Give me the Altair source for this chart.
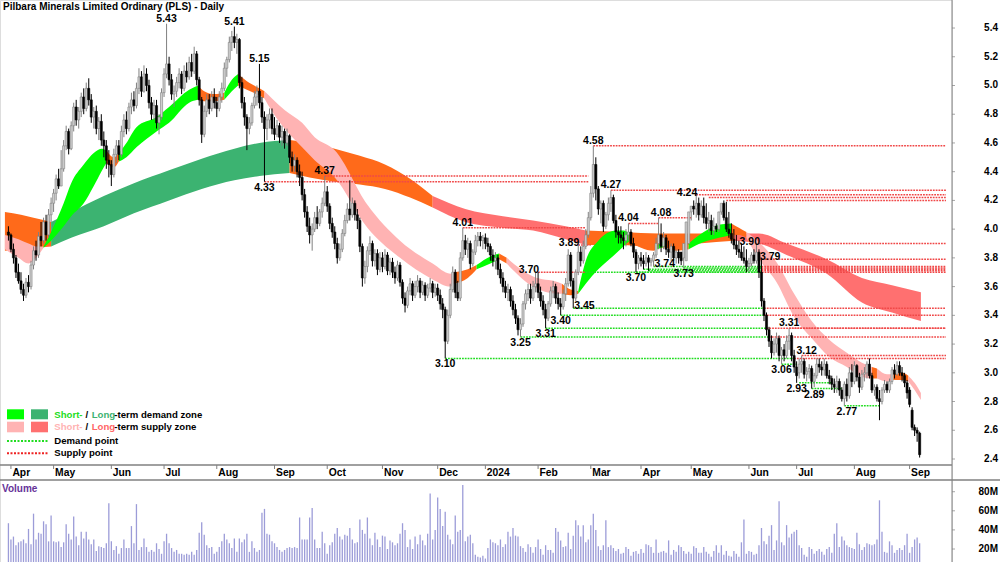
import altair as alt
import pandas as pd

FONT = "Liberation Sans"

# ---------------- daily candles (trading-day index 0 = 31 Mar 2023) ----------------
opens = [3.98,3.96,3.86,3.80,3.70,3.64,3.58,3.54,3.63,3.60,3.75,3.85,3.82,3.95,3.92,4.05,3.96,4.10,
 4.18,4.25,4.35,4.30,4.42,4.58,4.68,4.56,4.72,4.85,4.76,4.82,4.92,4.84,4.98,4.90,4.78,4.82,4.70,4.75,4.62,4.58,4.48,
 4.45,4.38,4.52,4.58,4.52,4.68,4.76,4.70,4.85,4.90,4.86,4.98,5.06,4.96,5.08,5.00,4.88,4.80,4.86,4.74,4.78,
 4.95,5.08,5.15,5.04,4.94,4.96,5.02,5.08,4.98,5.10,5.06,5.16,5.10,5.22,5.04,4.90,4.66,4.82,4.90,4.84,4.92,
 4.88,4.84,4.92,4.98,5.12,5.18,5.30,5.34,5.30,5.32,5.02,4.88,4.78,4.70,4.74,4.86,4.92,4.96,4.88,4.78,4.70,4.76,4.80,
 4.70,4.66,4.72,4.64,4.68,4.60,4.65,4.50,4.44,4.48,4.40,4.36,4.24,4.12,4.02,3.96,4.00,4.08,4.04,4.12,4.18,
 4.26,4.16,4.04,3.98,3.90,3.80,3.86,3.97,4.06,4.14,4.10,4.18,4.10,4.06,3.88,3.66,3.74,3.85,3.90,3.78,3.83,3.72,
 3.80,3.74,3.82,3.71,3.77,3.70,3.66,3.75,3.63,3.52,3.47,3.57,3.62,3.54,3.60,3.64,3.56,3.61,3.54,3.59,3.62,3.56,
 3.59,3.54,3.48,3.44,3.22,3.40,3.58,3.70,3.56,3.52,3.80,3.92,3.86,3.90,3.76,3.84,3.92,3.95,3.92,
 3.94,3.90,3.88,3.82,3.78,3.80,3.72,3.66,3.60,3.56,3.58,3.50,3.44,3.38,3.30,3.34,3.48,3.55,3.58,3.52,3.60,
 3.62,3.56,3.50,3.44,3.38,3.48,3.57,3.60,3.52,3.48,3.46,3.55,3.62,3.82,3.64,3.52,3.70,3.84,3.78,3.88,3.96,
 4.08,4.25,4.45,4.28,4.14,4.18,4.02,4.10,4.18,4.22,4.06,3.98,3.96,3.94,3.92,3.96,3.98,3.90,3.84,3.76,
 3.80,3.78,3.76,3.80,3.77,3.78,3.82,3.90,3.96,3.88,3.94,3.86,3.84,3.88,3.80,3.84,3.84,3.80,3.78,3.90,
 4.12,4.16,4.14,4.18,4.10,4.16,4.08,4.04,4.06,3.99,4.02,4.00,4.12,4.18,4.08,4.00,3.97,3.93,3.89,3.86,3.84,3.80,3.78,
 3.74,3.76,3.82,3.78,3.84,3.70,3.50,3.40,3.30,3.22,3.14,3.20,3.24,3.12,3.16,3.12,3.22,3.26,3.12,
 3.04,3.00,3.06,3.08,2.99,3.01,3.03,2.94,2.98,3.06,3.04,3.02,3.06,2.98,2.96,2.92,2.90,2.94,2.88,2.82,2.92,2.84,3.00,
 2.94,3.05,2.97,2.90,2.99,3.00,3.06,2.98,2.88,2.90,2.82,2.80,2.88,2.92,2.88,2.94,3.02,2.99,3.05,3.00,2.98,2.93,
 2.88,2.74,2.62,2.60,2.58]
highs = [4.02,3.97,3.90,3.82,3.76,3.70,3.62,3.66,3.68,3.78,3.88,3.92,3.98,4.05,4.08,4.10,4.14,4.22,
 4.28,4.38,4.42,4.55,4.62,4.72,4.70,4.75,4.88,4.90,4.85,4.95,4.98,5.02,5.05,4.94,4.85,4.86,4.78,4.80,4.68,4.62,4.55,
 4.48,4.56,4.62,4.62,4.72,4.80,4.82,4.88,4.95,4.96,5.02,5.12,5.10,5.14,5.12,5.04,4.92,4.90,4.90,4.80,4.98,
 5.12,5.43,5.20,5.08,5.00,5.06,5.12,5.10,5.14,5.16,5.20,5.22,5.27,5.24,5.06,4.92,4.86,4.94,4.94,4.96,4.98,
 4.92,4.96,5.02,5.16,5.20,5.34,5.38,5.41,5.36,5.33,5.06,4.92,4.80,4.78,4.88,4.96,5.00,5.15,4.92,4.82,4.80,4.84,4.84,
 4.78,4.76,4.74,4.72,4.70,4.70,4.66,4.54,4.52,4.50,4.45,4.40,4.28,4.16,4.08,4.04,4.12,4.16,4.14,4.22,4.37,
 4.30,4.18,4.08,4.02,3.94,3.90,4.00,4.10,4.18,4.34,4.22,4.20,4.14,4.08,3.90,3.78,3.88,3.95,3.92,3.86,3.86,3.84,
 3.84,3.86,3.84,3.80,3.80,3.74,3.78,3.77,3.65,3.56,3.60,3.66,3.64,3.64,3.68,3.66,3.64,3.63,3.62,3.66,3.64,3.62,
 3.62,3.58,3.52,3.46,3.44,3.62,3.74,3.72,3.64,3.84,4.01,3.96,3.94,3.92,3.86,3.96,3.98,3.98,3.96,
 3.97,3.94,3.90,3.86,3.84,3.82,3.76,3.70,3.64,3.62,3.60,3.54,3.48,3.40,3.38,3.50,3.58,3.62,3.62,3.64,3.70,
 3.70,3.60,3.54,3.48,3.50,3.60,3.64,3.62,3.56,3.52,3.58,3.66,3.86,3.84,3.66,3.72,3.89,3.88,3.92,4.00,4.12,
 4.30,4.58,4.50,4.30,4.20,4.20,4.12,4.22,4.27,4.24,4.10,4.02,4.02,3.98,4.00,4.04,4.00,3.94,3.86,3.82,
 3.84,3.82,3.84,3.82,3.80,3.84,3.94,4.08,4.04,3.98,3.96,3.92,3.90,3.90,3.86,3.86,3.84,3.84,3.92,4.08,
 4.16,4.20,4.24,4.22,4.20,4.22,4.18,4.12,4.10,4.08,4.04,4.08,4.14,4.20,4.19,4.12,4.04,4.00,3.96,3.92,3.90,3.88,3.86,
 3.80,3.84,3.86,3.90,3.86,3.79,3.52,3.42,3.32,3.26,3.24,3.28,3.26,3.18,3.20,3.26,3.31,3.28,3.16,
 3.08,3.10,3.12,3.10,3.04,3.06,3.05,3.00,3.10,3.10,3.08,3.10,3.08,3.02,2.98,2.96,2.98,2.96,2.90,2.94,2.96,3.04,3.06,
 3.08,3.06,3.00,3.02,3.04,3.08,3.10,3.00,2.92,2.92,2.88,2.90,2.95,2.94,2.96,3.04,3.06,3.08,3.08,3.04,3.00,2.95,
 2.90,2.76,2.64,2.62,2.59]
lows = [3.92,3.84,3.76,3.66,3.62,3.55,3.50,3.52,3.56,3.58,3.72,3.78,3.80,3.88,3.90,3.92,3.94,4.05,
 4.12,4.20,4.28,4.30,4.40,4.55,4.52,4.55,4.68,4.72,4.70,4.78,4.80,4.82,4.86,4.74,4.70,4.66,4.62,4.58,4.50,4.42,4.36,
 4.30,4.36,4.46,4.48,4.50,4.64,4.66,4.68,4.80,4.82,4.84,4.94,4.92,4.95,4.96,4.84,4.76,4.76,4.70,4.66,4.76,
 4.92,5.05,5.00,4.90,4.85,4.92,4.98,4.94,4.96,5.02,5.04,5.06,5.08,5.00,4.86,4.60,4.64,4.78,4.80,4.82,4.84,
 4.78,4.82,4.88,4.96,5.06,5.16,5.24,5.26,5.22,4.98,4.84,4.72,4.55,4.66,4.72,4.84,4.86,4.84,4.74,4.33,4.62,4.70,4.66,
 4.62,4.64,4.60,4.58,4.56,4.58,4.46,4.40,4.40,4.36,4.30,4.20,4.08,3.98,3.90,3.85,3.98,4.00,4.02,4.08,4.16,
 4.12,4.00,3.94,3.86,3.76,3.78,3.84,3.95,4.04,4.06,4.08,4.06,4.00,3.84,3.60,3.62,3.70,3.82,3.74,3.74,3.68,3.70,
 3.70,3.72,3.68,3.68,3.66,3.62,3.64,3.60,3.48,3.42,3.45,3.54,3.50,3.52,3.56,3.52,3.54,3.50,3.52,3.56,3.52,3.53,
 3.50,3.44,3.38,3.10,3.20,3.38,3.56,3.52,3.50,3.50,3.78,3.82,3.80,3.72,3.74,3.82,3.88,3.88,3.86,
 3.86,3.84,3.78,3.74,3.72,3.68,3.62,3.56,3.52,3.50,3.46,3.40,3.34,3.26,3.25,3.32,3.44,3.50,3.48,3.50,3.56,
 3.52,3.46,3.40,3.31,3.36,3.46,3.52,3.48,3.44,3.40,3.44,3.50,3.60,3.60,3.45,3.50,3.68,3.74,3.76,3.86,3.94,
 4.06,4.22,4.20,4.10,4.04,3.98,4.00,4.06,4.12,4.04,3.94,3.90,3.90,3.86,3.88,3.92,3.88,3.80,3.70,3.72,
 3.74,3.72,3.74,3.71,3.74,3.74,3.80,3.86,3.84,3.86,3.82,3.80,3.78,3.78,3.76,3.76,3.75,3.73,3.88,4.02,
 4.06,4.10,4.08,4.06,4.08,4.04,4.00,3.98,3.96,3.96,3.98,3.98,4.10,4.06,3.98,3.94,3.90,3.86,3.82,3.80,3.78,3.76,3.70,
 3.70,3.74,3.76,3.76,3.66,3.46,3.36,3.26,3.18,3.10,3.12,3.14,3.08,3.06,3.08,3.10,3.16,3.08,3.00,
 2.93,2.96,3.00,2.96,2.94,2.96,2.89,2.90,2.96,3.00,2.98,2.98,2.96,2.92,2.88,2.86,2.86,2.84,2.80,2.77,2.80,2.82,2.90,
 2.92,2.94,2.86,2.88,2.94,2.96,2.96,2.86,2.84,2.80,2.67,2.78,2.86,2.86,2.86,2.92,2.96,2.98,2.98,2.94,2.90,2.82,
 2.76,2.60,2.56,2.52,2.41]
closes = [3.96,3.86,3.80,3.70,3.64,3.58,3.54,3.63,3.60,3.75,3.85,3.82,3.95,3.92,4.05,3.96,4.10,4.18,
 4.25,4.35,4.30,4.42,4.58,4.68,4.56,4.72,4.85,4.76,4.82,4.92,4.84,4.98,4.90,4.78,4.82,4.70,4.75,4.62,4.58,4.48,4.45,
 4.38,4.52,4.58,4.52,4.68,4.76,4.70,4.85,4.90,4.86,4.98,5.06,4.96,5.08,5.00,4.88,4.80,4.86,4.74,4.78,4.95,
 5.08,5.15,5.04,4.94,4.96,5.02,5.08,4.98,5.10,5.06,5.16,5.10,5.22,5.04,4.90,4.66,4.82,4.90,4.84,4.92,4.88,
 4.84,4.92,4.98,5.12,5.18,5.30,5.34,5.30,5.32,5.02,4.88,4.78,4.70,4.74,4.86,4.92,4.96,4.88,4.78,4.70,4.76,4.80,4.70,
 4.66,4.72,4.64,4.68,4.60,4.65,4.50,4.44,4.48,4.40,4.36,4.24,4.12,4.02,3.96,4.00,4.08,4.04,4.12,4.18,4.26,
 4.16,4.04,3.98,3.90,3.80,3.86,3.97,4.06,4.14,4.10,4.18,4.10,4.06,3.88,3.66,3.74,3.85,3.90,3.78,3.83,3.72,3.80,
 3.74,3.82,3.71,3.77,3.70,3.66,3.75,3.63,3.52,3.47,3.57,3.62,3.54,3.60,3.64,3.56,3.61,3.54,3.59,3.62,3.56,3.59,
 3.54,3.48,3.44,3.22,3.40,3.58,3.70,3.56,3.52,3.80,3.92,3.86,3.90,3.76,3.84,3.92,3.95,3.92,3.94,
 3.90,3.88,3.82,3.78,3.80,3.72,3.66,3.60,3.56,3.58,3.50,3.44,3.38,3.30,3.34,3.48,3.55,3.58,3.52,3.60,3.62,
 3.56,3.50,3.44,3.38,3.48,3.57,3.60,3.52,3.48,3.46,3.55,3.62,3.82,3.64,3.52,3.70,3.84,3.78,3.88,3.96,4.08,
 4.25,4.45,4.28,4.14,4.18,4.02,4.10,4.18,4.22,4.06,3.98,3.96,3.94,3.92,3.96,3.98,3.90,3.84,3.76,3.80,
 3.78,3.76,3.80,3.77,3.78,3.82,3.90,3.96,3.88,3.94,3.86,3.84,3.88,3.80,3.84,3.80,3.78,3.90,4.05,4.12,
 4.16,4.14,4.18,4.10,4.16,4.08,4.04,4.06,3.99,4.02,4.00,4.12,4.18,4.08,4.00,3.97,3.93,3.89,3.86,3.84,3.80,3.78,3.74,
 3.76,3.82,3.78,3.84,3.70,3.50,3.40,3.30,3.22,3.14,3.20,3.24,3.12,3.16,3.12,3.22,3.26,3.12,3.04,
 2.98,3.06,3.08,2.99,3.01,3.03,2.94,2.98,3.06,3.04,3.02,3.06,2.98,2.96,2.92,2.90,2.94,2.88,2.82,2.92,2.84,3.00,2.94,
 3.05,2.97,2.90,2.99,3.00,3.06,2.98,2.88,2.90,2.82,2.80,2.88,2.92,2.88,2.94,3.02,2.99,3.05,3.00,2.98,2.93,2.86,
 2.78,2.62,2.60,2.58,2.43]
volumes_m = [47,30,33,24,27,28,30,26,41,25,57,30,37,36,49,46,28,55,
 28,27,28,22,27,46,36,30,54,33,24,38,31,38,30,25,30,18,23,22,21,26,68,
 28,19,23,15,21,30,21,21,44,26,67,19,22,31,22,17,19,17,26,20,15,
 28,36,26,21,17,19,15,15,14,15,14,17,14,19,37,48,35,24,21,22,15,
 17,22,28,36,30,26,21,31,17,31,27,30,36,17,28,21,17,19,58,62,36,35,28,
 26,22,19,17,19,21,22,21,22,21,53,30,30,30,53,63,30,21,21,38,26,
 15,24,27,36,42,33,30,35,34,42,30,26,27,51,40,36,53,31,24,37,30,22,
 34,33,20,29,27,24,26,36,47,40,22,30,20,33,25,35,29,24,36,78,30,40,
 74,62,44,59,35,30,25,55,38,40,87,28,33,35,26,14,12,11,13,
 10,21,30,27,26,24,30,22,25,38,33,42,34,33,23,21,17,25,22,16,22,
 30,20,14,24,19,19,16,42,38,29,22,23,37,20,34,50,45,33,45,27,30,
 45,57,40,23,19,24,50,22,24,21,18,20,15,16,22,20,13,17,18,15,
 20,16,25,24,22,16,30,16,17,18,16,29,14,19,17,24,22,18,15,17,
 15,23,21,16,16,22,17,15,12,18,24,16,24,14,18,13,12,18,15,12,27,51,15,
 18,17,14,15,24,42,28,25,34,45,19,29,70,27,24,45,32,36,38,
 40,24,21,14,12,22,20,15,18,20,17,14,20,22,16,36,47,22,33,29,24,22,21,
 20,37,25,19,22,26,25,24,25,30,71,38,17,16,28,24,16,19,21,19,24,36,
 16,22,30,32,26]

# ---------------- axis data ----------------
month_names = ["Apr", "May", "Jun", "Jul", "Aug", "Sep", "Oct", "Nov", "Dec", "2024",
               "Feb", "Mar", "Apr", "May", "Jun", "Jul", "Aug", "Sep"]
month_first_day = [1, 18, 41, 62, 83, 106, 127, 149, 171, 190, 211, 232, 252, 272, 295, 314, 337, 359]
price_ticks = [2.4, 2.6, 2.8, 3.0, 3.2, 3.4, 3.6, 3.8, 4.0, 4.2, 4.4, 4.6, 4.8, 5.0, 5.2, 5.4]
volume_ticks = [20, 40, 60, 80]

# ---------------- zones: (day, upper, lower) ----------------
long_band = [
    ("transition", [(-1.4, 4.12, 3.85), (5, 4.10, 3.86), (10, 4.08, 3.87), (17, 4.05, 3.88)]),
    ("long_demand", [(17, 4.05, 3.88), (25, 4.12, 3.94), (38, 4.23, 4.02), (50, 4.32, 4.11), (64, 4.41, 4.20),
                     (77, 4.49, 4.28), (90, 4.56, 4.34), (100, 4.60, 4.37), (112, 4.62, 4.39)]),
    ("transition", [(112, 4.62, 4.39), (120, 4.60, 4.36), (130, 4.56, 4.33), (140, 4.51, 4.31), (150, 4.45, 4.28),
                    (160, 4.35, 4.22), (169, 4.23, 4.15)]),
    ("long_supply", [(169, 4.23, 4.15), (182, 4.14, 4.05), (197, 4.09, 4.01), (209, 4.06, 3.99), (222, 4.02, 3.93),
                     (230, 3.99, 3.89)]),
    ("transition", [(230, 3.99, 3.89), (245, 3.98, 3.89), (259, 3.97, 3.87), (275, 3.97, 3.90), (289, 3.97, 3.92)]),
    ("long_supply", [(289, 3.97, 3.92), (299, 3.97, 3.90), (310, 3.90, 3.82), (326, 3.79, 3.69), (340, 3.66, 3.49),
                     (352, 3.61, 3.42), (363.5, 3.56, 3.36)]),
]
short_band = [
    ("short_supply", [(-1.4, 3.96, 3.86), (4, 3.93, 3.80), (8, 3.90, 3.76), (11, 3.88, 3.80), (14, 3.88, 3.87)]),
    ("short_demand", [(14, 3.88, 3.87), (17, 3.98, 3.92), (22, 4.18, 4.02), (25, 4.32, 4.09), (30, 4.45, 4.18),
                      (34, 4.53, 4.30), (37, 4.56, 4.40), (39, 4.55, 4.46)]),
    ("transition", [(39, 4.55, 4.46), (42, 4.50, 4.43), (44, 4.53, 4.47)]),
    ("short_demand", [(44, 4.53, 4.47), (47, 4.60, 4.50), (51, 4.71, 4.57), (59, 4.78, 4.68), (64, 4.85, 4.74),
                      (72, 4.97, 4.88), (75.5, 5.00, 4.90)]),
    ("transition", [(75.5, 5.00, 4.90), (78, 4.96, 4.89), (82, 4.94, 4.89), (86, 4.95, 4.90)]),
    ("short_demand", [(86, 4.95, 4.90), (89, 5.04, 4.96), (91.5, 5.08, 5.00)]),
    ("transition", [(91.5, 5.08, 5.00), (95, 5.03, 4.97), (100, 4.98, 4.93), (102, 4.96, 4.91)]),
    ("short_supply", [(102, 4.96, 4.91), (105, 4.91, 4.82), (110, 4.83, 4.70), (117, 4.74, 4.57), (122, 4.64, 4.48),
                      (130, 4.55, 4.36), (143, 4.17, 4.01), (156, 3.92, 3.80), (169, 3.76, 3.65), (176, 3.69, 3.60),
                      (177.5, 3.70, 3.62)]),
    ("transition", [(177.5, 3.70, 3.62), (183, 3.72, 3.66), (186.5, 3.75, 3.72)]),
    ("short_demand", [(186.5, 3.75, 3.72), (192, 3.81, 3.76), (195.5, 3.83, 3.79)]),
    ("transition", [(195.5, 3.83, 3.79), (198.5, 3.80, 3.76)]),
    ("short_supply", [(198.5, 3.80, 3.76), (209, 3.67, 3.60), (219, 3.63, 3.55), (220.5, 3.62, 3.55)]),
    ("transition", [(220.5, 3.62, 3.55), (224, 3.58, 3.54), (227, 3.57, 3.55)]),
    ("short_demand", [(227, 3.57, 3.55), (230, 3.78, 3.62), (235, 3.92, 3.72), (242, 3.99, 3.83), (245, 3.99, 3.88),
                      (247.5, 3.97, 3.92)]),
    ("transition", [(247.5, 3.97, 3.92), (252, 3.92, 3.87), (257, 3.89, 3.85), (258.5, 3.89, 3.86)]),
    ("short_demand", [(258.5, 3.89, 3.86), (261.5, 3.92, 3.88)]),
    ("transition", [(261.5, 3.92, 3.88), (266, 3.90, 3.85), (271, 3.90, 3.86)]),
    ("short_demand", [(271, 3.90, 3.86), (277, 3.98, 3.91), (283, 4.03, 3.94), (288, 4.04, 3.96)]),
    ("transition", [(288, 4.04, 3.96), (291, 4.01, 3.96), (294, 3.98, 3.94)]),
    ("short_supply", [(294, 3.98, 3.94), (299, 3.91, 3.79), (306, 3.77, 3.63), (313, 3.55, 3.39), (320, 3.36, 3.24),
                      (327, 3.23, 3.11), (334, 3.14, 3.04), (340, 3.07, 2.97), (344, 3.04, 2.96)]),
    ("transition", [(344, 3.04, 2.96), (346, 3.03, 2.96)]),
    ("short_supply", [(346, 3.03, 2.96), (350, 2.99, 2.94), (352.5, 2.99, 2.95)]),
    ("transition", [(352.5, 2.99, 2.95), (356, 3.00, 2.95), (358.5, 2.98, 2.94)]),
    ("short_supply", [(358.5, 2.98, 2.94), (361, 2.93, 2.88), (363.5, 2.86, 2.81)]),
]

# ---------------- demand / supply points: (from day, to day, price, kind) ----------------
level_lines = [
    (102, 231, 4.33, "supply"), (126, 231, 4.37, "supply"), (181, 230, 4.01, "supply"),
    (211, 230, 3.70, "supply"), (230, 299, 3.70, "demand"), (299, 373.5, 3.70, "supply"),
    (227, 232, 3.89, "supply"), (233, 373.5, 4.58, "supply"), (240, 373.5, 4.27, "supply"),
    (274, 373.5, 4.24, "supply"), (279, 373.5, 4.22, "supply"), (286, 373.5, 4.20, "supply"),
    (247, 259, 4.04, "supply"), (259, 272, 4.08, "supply"),
    (299, 373.5, 3.90, "supply"), (299, 373.5, 3.79, "supply"),
    (250, 300, 3.70, "demand"), (253, 300, 3.72, "demand"), (255, 300, 3.71, "demand"),
    (257, 300, 3.74, "demand"), (269, 300, 3.73, "demand"),
    (300, 373.5, 3.72, "supply"), (300, 373.5, 3.71, "supply"), (300, 373.5, 3.74, "supply"),
    (300, 373.5, 3.73, "supply"),
    (225, 301, 3.45, "demand"), (301, 373.5, 3.45, "supply"),
    (220, 301, 3.40, "demand"), (301, 373.5, 3.40, "supply"),
    (214, 302, 3.31, "demand"), (302, 373.5, 3.31, "supply"),
    (204, 303, 3.25, "demand"), (303, 373.5, 3.25, "supply"),
    (174, 313, 3.10, "demand"), (313, 373.5, 3.10, "supply"),
    (311, 373.5, 3.31, "supply"), (316, 373.5, 3.12, "supply"),
    (308, 314, 3.06, "demand"), (315, 328, 2.93, "demand"), (320, 332, 2.89, "demand"),
    (333, 347, 2.77, "demand"),
]

# ---------------- swing labels: (day, price, side) ----------------
swing_labels = [
    (63, 5.43, "above"), (90, 5.41, "above"), (100, 5.15, "above"), (102, 4.33, "below"),
    (126, 4.37, "above"), (174, 3.10, "below"), (181, 4.01, "above"), (204, 3.25, "below"),
    (214, 3.31, "below"), (220, 3.40, "below"), (225, 3.45, "right"), (211, 3.70, "left"),
    (227, 3.89, "left"), (233, 4.58, "above"), (240, 4.27, "above"), (247, 4.04, "above"),
    (260, 4.08, "above"), (250, 3.70, "below"), (257, 3.74, "right"), (269, 3.73, "below"),
    (274, 4.24, "left"), (299, 3.90, "left"), (299, 3.79, "right"), (311, 3.31, "above"),
    (318, 3.12, "above"), (308, 3.06, "below"), (314, 2.93, "below"), (321, 2.89, "below"),
    (334, 2.77, "below"),
]

# ---------------- frames ----------------
candles = pd.DataFrame({"day": list(range(len(closes))), "open": opens, "high": highs,
                        "low": lows, "close": closes, "vol": volumes_m})

band_rows = []
for name, segs in (("L", long_band), ("S", short_band)):
    for k, (kind, pts) in enumerate(segs):
        for d, t, b in pts:
            band_rows.append({"grp": name, "seg": f"{name}{k}", "kind": kind, "day": d, "top": t, "bot": b})
bands = pd.DataFrame(band_rows)

lines = pd.DataFrame(level_lines, columns=["d0", "d1", "price", "kind"])
labels = pd.DataFrame(swing_labels, columns=["day", "price", "side"])
labels["txt"] = labels["price"].map(lambda v: f"{v:.2f}")
months = pd.DataFrame({"day": month_first_day, "name": month_names})
pticks = pd.DataFrame({"v": price_ticks, "lab": [f"{v:.1f}" for v in price_ticks]})
vticks = pd.DataFrame({"v": volume_ticks, "lab": [f"{v}M" for v in volume_ticks]})

# ---------------- scales ----------------
xs = alt.Scale(domain=[-1.364, 373.9], nice=False, zero=False)
ps = alt.Scale(domain=[1.683, 5.595], nice=False, zero=False)
vs = alt.Scale(domain=[6.39, 594.9], nice=False, zero=False)

band_color = alt.Scale(domain=["short_demand", "long_demand", "short_supply", "long_supply", "transition"],
                       range=["#00ff00", "#3cb371", "#ffb3b3", "#ff7070", "#ff6a1a"])
line_color = alt.Scale(domain=["demand", "supply"], range=["#22dd22", "#f04848"])

def band_layer(g):
    return alt.Chart(bands).transform_filter(alt.datum.grp == g).mark_area(interpolate="monotone").encode(
        x=alt.X("day:Q", scale=xs, axis=None),
        y=alt.Y("top:Q", scale=ps, axis=None, stack=None),
        y2="bot:Q",
        fill=alt.Fill("kind:N", scale=band_color, legend=None),
        detail="seg:N",
    )

lines_layer = alt.Chart(lines).mark_rule(strokeDash=[1.8, 1.0], strokeWidth=1.5).encode(
    x=alt.X("d0:Q", scale=xs, axis=None), x2="d1:Q",
    y=alt.Y("price:Q", scale=ps, axis=None),
    stroke=alt.Stroke("kind:N", scale=line_color, legend=None),
)

up = "datum.close >= datum.open"
wicks = alt.Chart(candles).mark_rule(strokeWidth=1).encode(
    x=alt.X("day:Q", scale=xs, axis=None),
    y=alt.Y("low:Q", scale=ps, axis=None), y2="high:Q",
    stroke=alt.condition(up, alt.value("#808080"), alt.value("#000000")),
)
bodies = alt.Chart(candles).mark_bar(size=2.1, strokeWidth=0.6).encode(
    x=alt.X("day:Q", scale=xs, axis=None),
    y=alt.Y("open:Q", scale=ps, axis=None, stack=None), y2="close:Q",
    fill=alt.condition(up, alt.value("#cfcfcf"), alt.value("#000000")),
    stroke=alt.condition(up, alt.value("#808080"), alt.value("#000000")),
)

def label_layer(side, **kw):
    return alt.Chart(labels).transform_filter(alt.datum.side == side).mark_text(
        font=FONT, fontSize=10.5, fontWeight="bold", color="#000000", baseline="alphabetic", **kw
    ).encode(x=alt.X("day:Q", scale=xs, axis=None), y=alt.Y("price:Q", scale=ps, axis=None), text="txt:N")

lab_layers = [
    label_layer("above", align="center", dy=-2),
    label_layer("below", align="center", dy=9),
    label_layer("left", align="right", dx=1, dy=1),
    label_layer("right", align="left", dx=1, dy=1),
]

vol_layer = alt.Chart(candles).mark_bar(size=1.3, color="#9c9cd8", clip=True).encode(
    x=alt.X("day:Q", scale=xs, axis=None),
    y=alt.Y("vol:Q", scale=vs, axis=None, stack=None), y2=alt.datum(0),
)

one = pd.DataFrame({"a": [0]})

def rule(x1, x2, y1, y2, color="#808080", width=1.0, dash=None):
    kw = dict(color=color, strokeWidth=width)
    if dash:
        kw["strokeDash"] = dash
    return alt.Chart(one).mark_rule(**kw).encode(
        x=alt.value(x1), x2=alt.value(x2), y=alt.value(y1), y2=alt.value(y2))

def rect(x1, x2, y1, y2, color):
    return alt.Chart(one).mark_rect(color=color).encode(
        x=alt.value(x1), x2=alt.value(x2), y=alt.value(y1), y2=alt.value(y2))

def txt(s, x, y, color="#000000", size=10, align="left"):
    return alt.Chart(one).mark_text(text=s, font=FONT, fontSize=size, fontWeight="bold", color=color,
                                    align=align, baseline="middle").encode(x=alt.value(x), y=alt.value(y))

# axes
axis_line = rule(952, 952, 0, 562)
p_ticks = alt.Chart(pticks).mark_tick(orient="horizontal", color="#808080", thickness=1, size=3).encode(
    x=alt.value(953.5), y=alt.Y("v:Q", scale=ps, axis=None))
p_labels = alt.Chart(pticks).mark_text(font=FONT, fontSize=10, fontWeight="bold", align="right",
                                      baseline="middle").encode(
    x=alt.value(998), y=alt.Y("v:Q", scale=ps, axis=None), text="lab:N")
v_ticks = alt.Chart(vticks).mark_tick(orient="horizontal", color="#808080", thickness=1, size=3).encode(
    x=alt.value(953.5), y=alt.Y("v:Q", scale=vs, axis=None))
v_labels = alt.Chart(vticks).mark_text(font=FONT, fontSize=10, fontWeight="bold", align="right",
                                      baseline="middle").encode(
    x=alt.value(998), y=alt.Y("v:Q", scale=vs, axis=None), text="lab:N")

strip_top = rule(0, 952, 465, 465, width=1.6)
strip_bot = rule(0, 1000, 480, 480, width=1.6)
m_ticks = alt.Chart(months).mark_rule(color="#808080", strokeWidth=1).encode(
    x=alt.X("day:Q", scale=xs, axis=None), y=alt.value(465), y2=alt.value(469))
m_labels = alt.Chart(months).mark_text(font=FONT, fontSize=10.3, fontWeight="bold", align="left",
                                       baseline="middle", dx=1.5).encode(
    x=alt.X("day:Q", scale=xs, axis=None), y=alt.value(473), text="name:N")

title = txt("Pilbara Minerals Limited Ordinary (PLS) - Daily", 3, 7, size=10)
vol_title = txt("Volume", 2, 489, color="#663399", size=10)

legend = [
    rect(7, 24, 409.3, 419.3, "#00ff00"), rect(31, 48, 409.3, 419.3, "#3cb371"),
    rect(7, 24, 421.7, 432.3, "#ffb3b3"), rect(31, 48, 421.7, 432.3, "#ff7070"),
    txt("Short-", 54.3, 414.5, color="#22dd22", size=9.6), txt("/", 85.5, 414.5, size=9.6),
    txt("Long", 91.7, 414.5, color="#3cb371", size=9.6), txt("-term demand zone", 114.3, 414.5, size=9.6),
    txt("Short-", 54.3, 427.3, color="#ffb3b3", size=9.6), txt("/", 85.5, 427.3, size=9.6),
    txt("Long", 91.7, 427.3, color="#ff6666", size=9.6), txt("-term supply zone", 114.3, 427.3, size=9.6),
    rule(7, 48, 441, 441, color="#22dd22", width=2, dash=[2, 1.5]),
    rule(7, 48, 453.3, 453.3, color="#ee2222", width=2, dash=[2, 1.5]),
    txt("Demand point", 54.3, 441, size=9.6), txt("Supply point", 54.3, 453.3, size=9.6),
]

chart = alt.layer(
    band_layer("L"), band_layer("S"), lines_layer, wicks, bodies, *lab_layers, vol_layer,
    axis_line, p_ticks, p_labels, v_ticks, v_labels, strip_top, strip_bot, m_ticks, m_labels,
    title, vol_title, *legend,
).resolve_scale(y="independent", fill="independent", stroke="independent").properties(
    width=952, height=562,
    autosize=alt.AutoSizeParams(type="none"),
    padding={"left": 0, "top": 0, "right": 48, "bottom": 0},
).configure_view(strokeWidth=0).configure(background="#ffffff")

chart.save("out.html", embed_options={"renderer": "svg", "actions": False})
